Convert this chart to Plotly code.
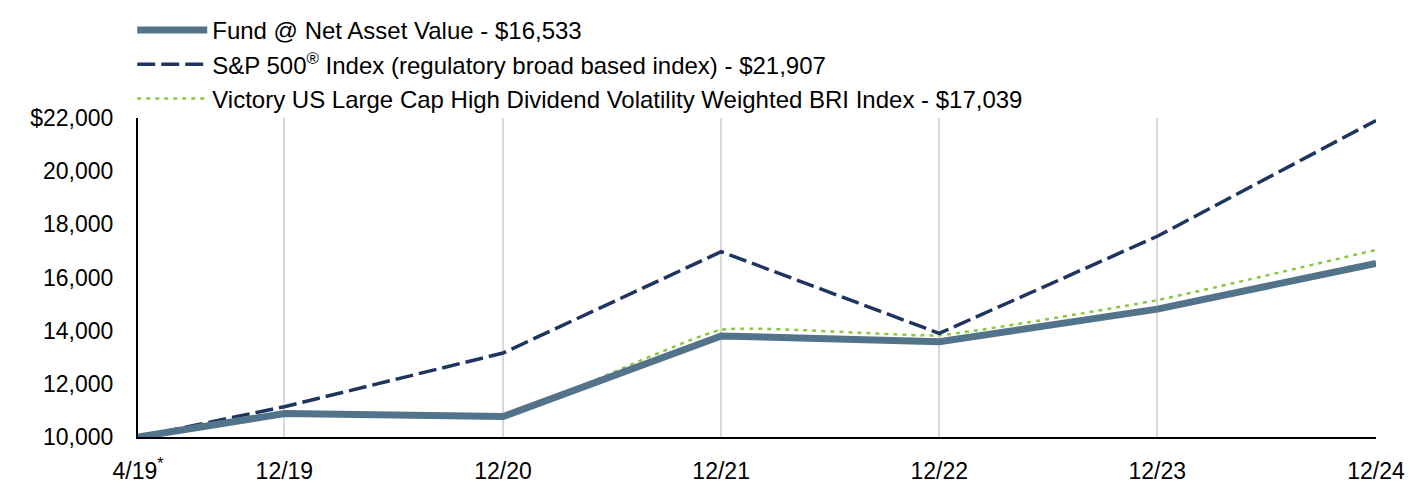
import plotly.graph_objects as go

dates = ["2019-04-30", "2019-12-31", "2020-12-31", "2021-12-31", "2022-12-31", "2023-12-31", "2024-12-31"]
tick_labels = ["4/19<sup>*</sup>", "12/19", "12/20", "12/21", "12/22", "12/23", "12/24"]

fund = [10000, 10880, 10770, 13800, 13585, 14810, 16533]
sp500 = [10000, 11140, 13160, 16970, 13900, 17550, 21907]
victory = [10000, 10900, 10800, 14030, 13830, 15150, 17039]

names = [
    "Fund @ Net Asset Value - $16,533",
    "S&P 500<sup>®</sup> Index (regulatory broad based index) - $21,907",
    "Victory US Large Cap High Dividend Volatility Weighted BRI Index - $17,039",
]

fig = go.Figure()
fig.add_trace(go.Scatter(x=dates, y=victory, name=names[2], mode="lines",
                         line=dict(color="#8dc63f", width=2.5, dash="4px,5px", shape="spline", smoothing=0.4)))
fig.add_trace(go.Scatter(x=dates, y=sp500, name=names[1], mode="lines",
                         line=dict(color="#1f3560", width=3.5, dash="18px,6px")))
fig.add_trace(go.Scatter(x=dates, y=fund, name=names[0], mode="lines",
                         line=dict(color="#52738a", width=7)))

fig.update_layout(
    width=1428, height=504,
    margin=dict(l=130, r=60, t=110, b=75, autoexpand=False),
    paper_bgcolor="white", plot_bgcolor="white",
    font=dict(family="Liberation Sans, Arial, sans-serif", size=23, color="#000000"),
    showlegend=True,
    legend=dict(xref="container", yref="container", x=0.087, y=1.006, xanchor="left", yanchor="top",
                traceorder="reversed", font=dict(size=24), itemwidth=70,
                bgcolor="rgba(0,0,0,0)", tracegroupgap=0),
    xaxis=dict(type="date", range=["2019-04-30", "2024-12-31"],
               tickvals=dates, ticktext=tick_labels, tickangle=0,
               showgrid=True, gridcolor="#d9d9d9", gridwidth=2,
               showline=True, linecolor="#000000", linewidth=2,
               ticks="", ticklabelstandoff=12, tickfont=dict(size=23), zeroline=False,
               automargin=False),
    yaxis=dict(range=[10000, 22000], tickvals=[10000, 12000, 14000, 16000, 18000, 20000, 22000],
               ticktext=["10,000", "12,000", "14,000", "16,000", "18,000", "20,000", "$22,000"],
               showgrid=False, showline=True, linecolor="#000000", linewidth=2,
               ticks="", ticklabelstandoff=18, tickfont=dict(size=23), zeroline=False,
               automargin=False),
)

fig.write_html("out.html")
